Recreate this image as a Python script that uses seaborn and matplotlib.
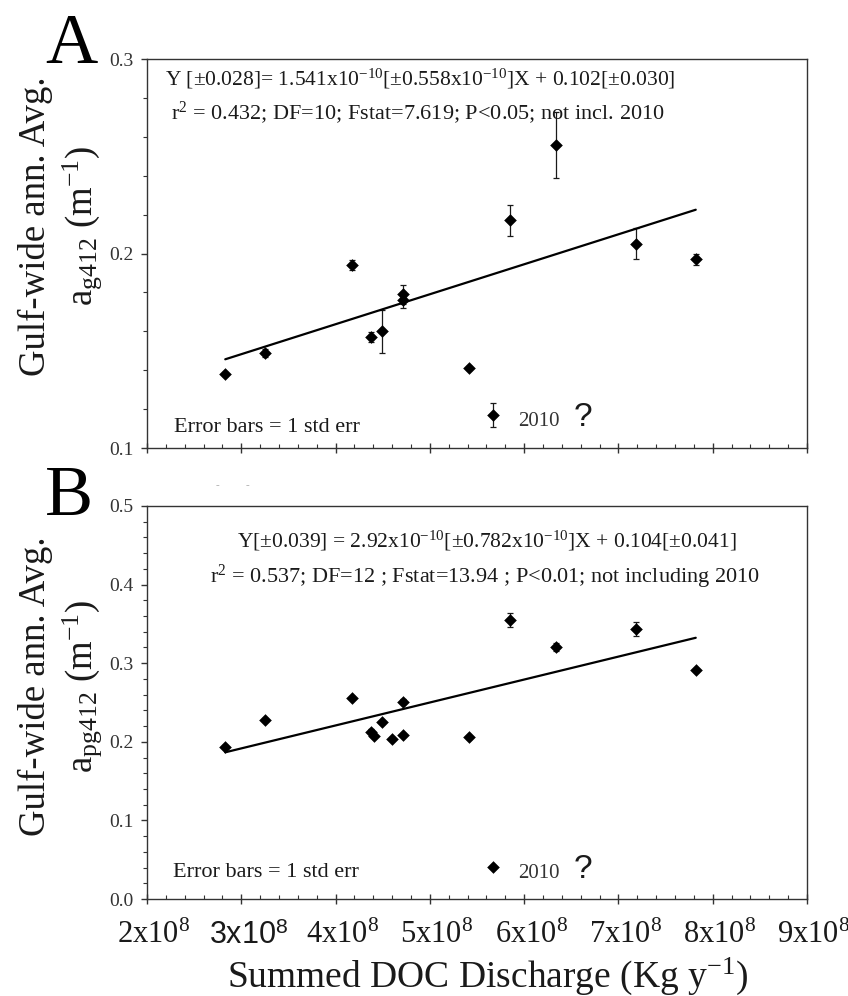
import matplotlib
matplotlib.use('Agg')
import matplotlib.pyplot as plt
import matplotlib.transforms as mtransforms
from matplotlib.ticker import MultipleLocator, FormatStrFormatter
import numpy as np
import pandas as pd
import seaborn as sns

# ---- data ----
# Panel A: Gulf-wide annual avg a_g412 vs summed DOC discharge (2010 kept apart)
doc_a = np.array([2.83, 3.25, 4.17, 4.38, 4.49, 4.72, 4.72, 5.42, 5.85, 6.34, 7.19, 7.82]) * 1e8
ag412 = [0.138, 0.149, 0.194, 0.157, 0.160, 0.179, 0.176, 0.141, 0.217, 0.256, 0.205, 0.197]
ag412_err = [0.001, 0.002, 0.0025, 0.0025, 0.011, 0.005, 0.004, 0.001, 0.008, 0.017, 0.008, 0.003]
ag412_2010 = 0.117
ag412_2010_err = 0.006
fit_a = (1.541e-10, 0.102)   # slope, intercept

# Panel B: a_pg412
doc_b = np.array([2.83, 3.25, 4.17, 4.38, 4.41, 4.49, 4.60, 4.72, 4.72, 5.42, 5.85, 6.34, 7.19, 7.82]) * 1e8
apg412 = [0.194, 0.228, 0.256, 0.213, 0.207, 0.225, 0.204, 0.251, 0.209, 0.206, 0.355, 0.321, 0.344, 0.291]
apg412_err = [0.002, 0.002, 0.002, 0.003, 0.002, 0.002, 0.002, 0.003, 0.002, 0.002, 0.009, 0.005, 0.009, 0.002]
apg412_2010 = 0.041
apg412_2010_err = 0.001
fit_b = (2.92e-10, 0.104)

doc_2010 = 5.67e8

xtick_vals = np.arange(2, 10) * 1e8
xtick_labels = [r'2x10$^{8}$', r'3x10$^{\mathsf{8}}$', r'4x10$^{8}$', r'5x10$^{8}$',
                r'6x10$^{8}$', r'7x10$^{8}$', r'8x10$^{8}$', r'9x10$^{8}$']

eq_a = [r'Y [±0.028]= 1.541x10$^{-10}$[±0.558x10$^{-10}$]X + 0.102[±0.030]',
        r'r$^{2}$ = 0.432; DF=10; Fstat=7.619; P<0.05; not incl. 2010']
eq_b = [r'Y[±0.039] = 2.92x10$^{-10}$[±0.782x10$^{-10}$]X + 0.104[±0.041]',
        r'r$^{2}$ = 0.537; DF=12 ; Fstat=13.94 ; P<0.01; not including 2010']

# ---- style ----
sns.set_style('ticks')
plt.rcParams['font.family'] = ['Liberation Serif', 'DejaVu Serif']
plt.rcParams['mathtext.fontset'] = 'custom'
plt.rcParams['mathtext.rm'] = 'Liberation Serif'
plt.rcParams['mathtext.it'] = 'Liberation Serif:italic'
plt.rcParams['mathtext.bf'] = 'Liberation Serif:bold'
plt.rcParams['mathtext.sf'] = 'Liberation Sans'
plt.rcParams['mathtext.default'] = 'rm'

W, H = 848, 996
fig = plt.figure(figsize=(W / 100, H / 100), dpi=100)
ax_a = fig.add_axes([147 / W, 1 - 448 / H, 660 / W, 389 / H])
ax_b = fig.add_axes([147 / W, 1 - 899 / H, 660 / W, 393 / H])

ink = '#1a1a1a'


def draw_panel(ax, x, y, err, y10, err10, fit, eq, eq_pos, ylim, ylabel):
    df = pd.DataFrame({'doc': x, 'val': y})
    ax.errorbar(x, y, yerr=err, fmt='none', ecolor=ink, elinewidth=0.9,
                capsize=2.5, capthick=0.9, zorder=2)
    ax.errorbar([doc_2010], [y10], yerr=[err10], fmt='none', ecolor=ink,
                elinewidth=0.9, capsize=2.5, capthick=0.9, zorder=2)
    sns.scatterplot(data=df, x='doc', y='val', marker='D', s=36, color='black',
                    edgecolor='black', linewidth=0.4, ax=ax, zorder=3, legend=False)
    sns.scatterplot(x=[doc_2010], y=[y10], marker='D', s=36, color='black',
                    edgecolor='black', linewidth=0.4, ax=ax, zorder=3, legend=False)

    # regression line (2010 excluded) over the data range
    xs = np.array([min(x), max(x)])
    sns.lineplot(x=xs, y=fit[0] * xs + fit[1], color='black', linewidth=1.6, ax=ax)

    ax.set_xlim(2e8, 9e8)
    ax.set_ylim(*ylim)
    ax.xaxis.set_major_locator(MultipleLocator(1e8))
    ax.xaxis.set_minor_locator(MultipleLocator(0.2e8))
    ax.yaxis.set_major_locator(MultipleLocator(0.1))
    ax.yaxis.set_minor_locator(MultipleLocator(0.02))
    ax.yaxis.set_major_formatter(FormatStrFormatter('%.1f'))

    for s in ax.spines.values():
        s.set_color('#333333')
        s.set_linewidth(1.0)
    ax.tick_params(axis='x', which='major', direction='inout', length=7, width=1.0,
                   color='#333333', top=False)
    ax.tick_params(axis='x', which='minor', direction='in', length=3, width=0.8,
                   color='#333333', top=False)
    ax.tick_params(axis='y', which='major', direction='out', length=4.5, width=1.0,
                   color='#333333', labelsize=14, labelcolor='#333333', pad=5, right=False)
    ax.tick_params(axis='y', which='minor', direction='out', length=3, width=0.8,
                   color='#333333', right=False)

    ax.set_ylabel(ylabel, fontsize=26.5, linespacing=1.2, color=ink)

    (x1, y1), (x2, y2) = eq_pos
    ax.text(x1, y1, eq[0], transform=ax.transAxes, ha='center', va='baseline',
            fontsize=15.5, color=ink)
    ax.text(x2, y2, eq[1], transform=ax.transAxes, ha='center', va='baseline',
            fontsize=16, color=ink)

    # 2010 outlier tag
    ax.annotate('2010', xy=(doc_2010, y10), xytext=(18, -8), textcoords='offset points',
                ha='left', va='baseline', fontsize=15, color='#333333')
    ax.annotate('?', xy=(doc_2010, y10), xytext=(58, -8), textcoords='offset points',
                ha='left', va='baseline', fontsize=24, color=ink,
                family=['Liberation Sans', 'DejaVu Sans'])


draw_panel(ax_a, doc_a, ag412, ag412_err, ag412_2010, ag412_2010_err, fit_a, eq_a,
           ((0.4136, 0.933), (0.4106, 0.846)), (0.1, 0.3),
           'Gulf-wide ann. Avg.\n' + r'a$_{\mathrm{g412}}$ (m$^{-1}$)')
draw_panel(ax_b, doc_b, apg412, apg412_err, apg412_2010, apg412_2010_err, fit_b, eq_b,
           ((0.515, 0.896), (0.512, 0.804)), (0.0, 0.5),
           'Gulf-wide ann. Avg.\n' + r'a$_{\mathrm{pg412}}$ (m$^{-1}$)')

ax_a.text(0.041, 0.041, 'Error bars = 1 std err', transform=ax_a.transAxes,
          ha='left', va='baseline', fontsize=16, color=ink)
ax_b.text(0.039, 0.056, 'Error bars = 1 std err', transform=ax_b.transAxes,
          ha='left', va='baseline', fontsize=16, color=ink)

ax_a.set_xlabel('')
ax_a.set_xticks(xtick_vals)
ax_a.set_xticklabels([])
ax_b.set_xticks(xtick_vals, xtick_labels)
ax_b.tick_params(axis='x', which='major', labelsize=22, labelcolor=ink, pad=12)
shift = mtransforms.ScaledTranslation(5 / 72, 0, fig.dpi_scale_trans)
for lab in ax_b.get_xticklabels():
    lab.set_transform(lab.get_transform() + shift)
ax_b.get_xticklabels()[1].set_fontfamily(['Liberation Sans', 'DejaVu Sans'])

ax_b.set_xlabel(r'Summed DOC Discharge (Kg y$^{-1}$)', fontsize=27, color=ink)
ax_b.xaxis.set_label_coords((488 - 147) / 660, -(987 - 899) / 393)
ax_b.xaxis.label.set_va('baseline')

ax_a.yaxis.set_label_coords((61 - 147) / 660, (448 - 226) / 389)
ax_a.yaxis.label.set_va('center')
ax_b.yaxis.set_label_coords((61 - 147) / 660, (899 - 686) / 393)
ax_b.yaxis.label.set_va('center')

# panel letters
fig.text(45 / W, 1 - 63 / H, 'A', fontsize=52, ha='left', va='baseline', color='black')
fig.text(45 / W, 1 - 515 / H, 'B', fontsize=52, ha='left', va='baseline', color='black')

# faint marks above panel B
fig.text(217 / W, 1 - 486 / H, '-', fontsize=8, color='#aaaaaa', ha='center', va='center')
fig.text(247 / W, 1 - 486 / H, '-', fontsize=8, color='#aaaaaa', ha='center', va='center')

fig.savefig('out.png', dpi=100)
